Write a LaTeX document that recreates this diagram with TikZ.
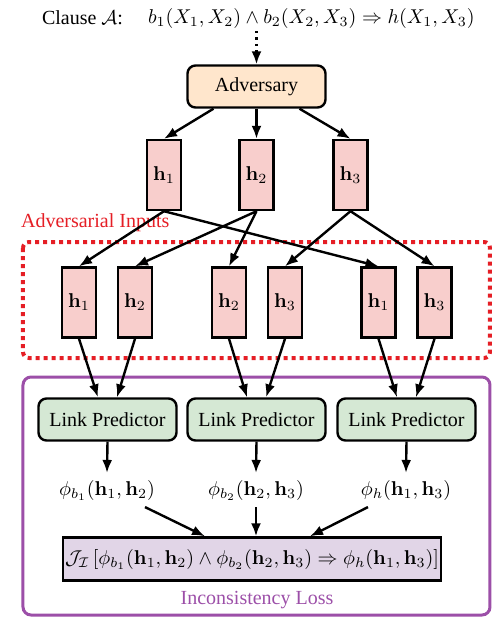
\documentclass[tikz,border=0pt]{standalone}
\usepackage[no-math]{fontspec}
\setmainfont{Liberation Serif}
\usetikzlibrary{arrows.meta}
\definecolor{advfill}{HTML}{FFE6CC}
\definecolor{hfill}{HTML}{F8CECC}
\definecolor{lpfill}{HTML}{D5E8D4}
\definecolor{lossfill}{HTML}{E1D5E7}
\definecolor{lossline}{HTML}{9C4FA8}
\definecolor{advred}{HTML}{E51E25}

\begin{document}
\begin{tikzpicture}[x=0.5pt,y=-0.5pt,
  arr/.style={very thick,-{Latex[length=6.5pt,width=5pt]}},
  vec/.style={draw,very thick,fill=hfill,minimum width=17pt,minimum height=35pt,inner sep=0pt},
  lp/.style={draw,very thick,rounded corners=4pt,fill=lpfill,minimum width=69pt,minimum height=21pt}]
  \useasboundingbox (0,0) rectangle (493,618);

  \node[anchor=west] (clause) at (35,18) {Clause $\mathcal{A}$:};
  \node[anchor=west] (rule) at (141,18) {$b_1(X_1,X_2)\wedge b_2(X_2,X_3)\Rightarrow h(X_1,X_3)$};
  \node[lp,fill=advfill] (adv) at (256.5,86.5) {Adversary};
  \coordinate (dots) at (256.5,31);
  \draw[arr,dotted] (dots) -- (adv.north);

  % embeddings from the adversary
  \foreach \i/\x in {1/164,2/256.5,3/350.5}
    \node[vec] (h\i) at (\x,175) {$\mathbf{h}_\i$};
  \draw[arr] ([xshift=-21.5pt]adv.south) -- (h1.north);
  \draw[arr] (adv.south) -- (h2.north);
  \draw[arr] ([xshift=21.5pt]adv.south) -- (h3.north);

  % adversarial inputs
  \draw[advred,line width=2pt,dash pattern=on 2pt off 2pt,rounded corners=3pt]
    (23,242) rectangle (490,358);
  \node[anchor=west,text=advred] (advlabel) at (14,223) {Adversarial Inputs};
  \foreach \n/\x/\k in {inl1/79/1,inr1/135/2,inl2/229/2,inr2/285/3,inl3/378.5/1,inr3/434.5/3}
    \node[vec] (\n) at (\x,302.5) {$\mathbf{h}_\k$};
  \foreach \s/\t in {h1/inl1,h2/inr1,h2/inl2,h3/inr2,h1/inl3,h3/inr3}
    \draw[arr] (\s.south) -- (\t.north);

  % inconsistency loss
  \draw[lossline,line width=1.5pt,rounded corners=4pt] (23,377) rectangle (490,615);
  \foreach \i/\x in {1/107.5,2/256.5,3/406.5} {
    \node[lp] (lp\i) at (\x,419.5) {Link Predictor};
    \draw[arr] (inl\i.south) -- ([xshift=-4.75pt]lp\i.north);
    \draw[arr] (inr\i.south) -- ([xshift=4.75pt]lp\i.north);
  }
  \node (phi1) at (107,490) {$\phi_{b_1}(\mathbf{h}_1,\mathbf{h}_2)$};
  \node (phi2) at (256,490) {$\phi_{b_2}(\mathbf{h}_2,\mathbf{h}_3)$};
  \node (phi3) at (406,490) {$\phi_h(\mathbf{h}_1,\mathbf{h}_3)$};
  \foreach \i in {1,2,3}
    \draw[arr] (lp\i.south) -- (phi\i.north);
  \node[draw,very thick,fill=lossfill,minimum width=185pt,minimum height=21.5pt,inner xsep=1pt] (loss) at (252,559)
    {$\mathcal{J}_{\mathcal{I}}\,[\phi_{b_1}(\mathbf{h}_1,\mathbf{h}_2)\wedge\phi_{b_2}(\mathbf{h}_2,\mathbf{h}_3)\Rightarrow\phi_h(\mathbf{h}_1,\mathbf{h}_3)]$};
  \draw[arr] ([xshift=19pt]phi1.south) -- ([xshift=-23.5pt]loss.north);
  \draw[arr] (phi2.south) -- (phi2.south |- loss.north);
  \draw[arr] ([xshift=-19pt]phi3.south) -- ([xshift=29pt]loss.north);
  \node[text=lossline] (losslabel) at (257,600) {Inconsistency Loss};
\end{tikzpicture}
\end{document}
